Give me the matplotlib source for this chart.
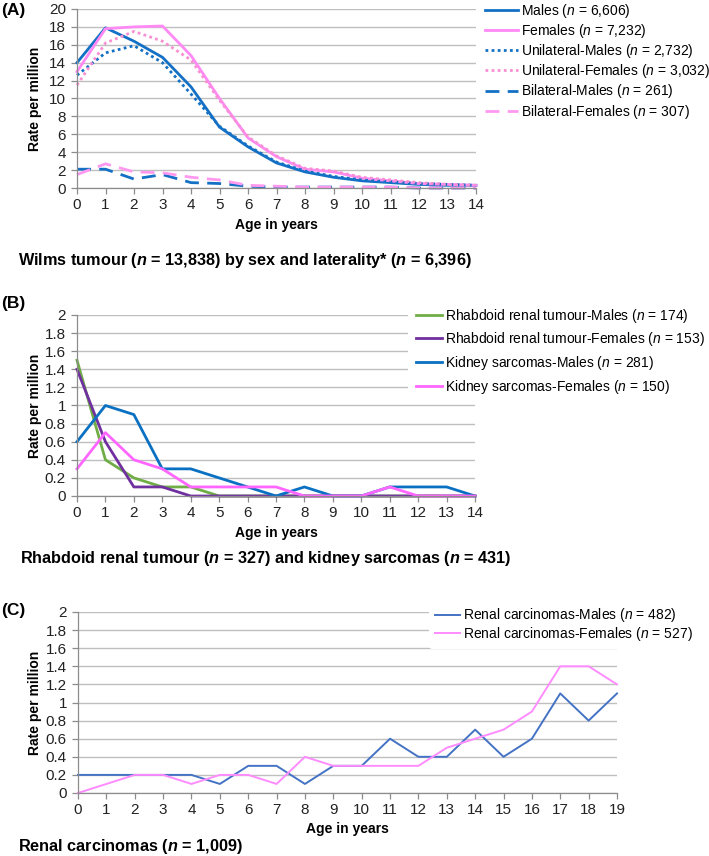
import numpy as np
import matplotlib.pyplot as plt

plt.rcParams['font.family'] = ['Liberation Sans', 'DejaVu Sans']
plt.rcParams['mathtext.fontset'] = 'custom'
plt.rcParams['mathtext.rm'] = 'Liberation Sans'
plt.rcParams['mathtext.it'] = 'Liberation Sans:italic'
plt.rcParams['mathtext.bf'] = 'Liberation Sans:bold'
plt.rcParams['mathtext.bfit'] = 'Liberation Sans:bold:italic'

# panel A: Wilms tumour, ages 0-14
ages_a = list(range(15))
males = [14.0, 17.9, 16.4, 14.6, 11.3, 6.8, 4.6, 2.8, 1.8, 1.2, 0.8, 0.6, 0.4, 0.3, 0.3]
females = [13.0, 17.8, 18.0, 18.1, 14.8, 10.0, 5.6, 3.5, 2.1, 1.8, 1.1, 0.8, 0.5, 0.4, 0.3]
uni_males = [12.6, 15.1, 15.9, 14.0, 10.5, 6.9, 4.7, 2.9, 1.9, 1.3, 0.9, 0.7, 0.5, 0.4, 0.3]
uni_females = [11.5, 16.2, 17.5, 16.4, 14.3, 9.8, 5.7, 3.6, 2.2, 1.9, 1.2, 0.9, 0.6, 0.4, 0.3]
bi_males = [2.1, 2.1, 1.0, 1.5, 0.6, 0.5, 0.2, 0.1, 0.1, 0.1, 0.1, 0.1, 0.0, 0.0, 0.0]
bi_females = [1.5, 2.7, 1.8, 1.7, 1.2, 0.9, 0.3, 0.2, 0.1, 0.1, 0.1, 0.1, 0.0, 0.0, 0.0]

# panel B: rhabdoid renal tumour and kidney sarcomas
ages_b = list(range(15))
rhab_males = [1.5, 0.4, 0.2, 0.1, 0.1, 0.0, 0.0, 0.0, 0.0, 0.0, 0.0, 0.0, 0.0, 0.0, 0.0]
rhab_females = [1.4, 0.6, 0.1, 0.1, 0.0, 0.0, 0.0, 0.0, 0.0, 0.0, 0.0, 0.0, 0.0, 0.0, 0.0]
sarc_males = [0.6, 1.0, 0.9, 0.3, 0.3, 0.2, 0.1, 0.0, 0.1, 0.0, 0.0, 0.1, 0.1, 0.1, 0.0]
sarc_females = [0.3, 0.7, 0.4, 0.3, 0.1, 0.1, 0.1, 0.1, 0.0, 0.0, 0.0, 0.1, 0.0, 0.0, 0.0]

# panel C: renal carcinomas, ages 0-19
ages_c = list(range(20))
carc_males = [0.2, 0.2, 0.2, 0.2, 0.2, 0.1, 0.3, 0.3, 0.1, 0.3, 0.3, 0.6, 0.4, 0.4, 0.7, 0.4, 0.6, 1.1, 0.8, 1.1]
carc_females = [0.0, 0.1, 0.2, 0.2, 0.1, 0.2, 0.2, 0.1, 0.4, 0.3, 0.3, 0.3, 0.3, 0.5, 0.6, 0.7, 0.9, 1.4, 1.4, 1.2]

W, H = 709, 856
GRID = '#BFBFBF'
AXC = '#8C8C8C'
N = r'$\it{n}$'
NB = r'$\mathbfit{n}$'

fig = plt.figure(figsize=(W / 100, H / 100), dpi=100)


def make_axes(left, top, right, bottom):
    return fig.add_axes([left / W, 1 - bottom / H, (right - left) / W, (bottom - top) / H])


def style(ax, xmax, ymax, labels):
    ax.set_xlim(0, xmax)
    ax.set_ylim(0, ymax)
    ax.set_xticks(range(xmax + 1))
    ax.set_yticks(np.linspace(0, ymax, 11))
    ax.set_yticklabels(labels)
    ax.yaxis.grid(True, color=GRID, lw=1.0)
    ax.set_axisbelow(True)
    for s in ['top', 'right']:
        ax.spines[s].set_visible(False)
    for s in ['left', 'bottom']:
        ax.spines[s].set_color(AXC)
        ax.spines[s].set_linewidth(0.9)
    ax.tick_params(axis='both', colors=AXC, length=4, width=0.9, labelsize=11,
                   labelcolor='#222222')
    ax.tick_params(axis='x', pad=3)
    ax.tick_params(axis='y', pad=4)


def ftext(x, y, s, **kw):
    return fig.text(x / W, 1 - y / H, s, **kw)


def legend(ax, x, y, hl, ls, bp=0.0):
    # x, y: pixel position of the first handle's left end / top of first row
    fs = 10
    fpx = fs * 100 / 72
    leg = ax.legend(loc='upper left', fontsize=fs, frameon=True, borderpad=bp,
                    handlelength=hl, handletextpad=0.2, labelspacing=ls,
                    borderaxespad=0,
                    bbox_to_anchor=((x - bp * fpx) / W, 1 - (y - bp * fpx) / H),
                    bbox_transform=fig.transFigure)
    leg.get_frame().set_facecolor('white')
    leg.get_frame().set_edgecolor('none')
    leg.get_frame().set_alpha(1)
    return leg


# ---- A
ax = make_axes(77, 9, 476, 188)
style(ax, 14, 20, [str(v) for v in range(0, 21, 2)])
blue = '#1370C4'
ax.plot(ages_a, males, color=blue, lw=2.0, label='Males (' + N + ' = 6,606)', clip_on=False)
ax.plot(ages_a, females, color='#FF8AF5', lw=2.0, label='Females (' + N + ' = 7,232)', clip_on=False)
ax.plot(ages_a, uni_males, color=blue, lw=2.0, ls=(0, (1, 1.2)),
        label='Unilateral-Males (' + N + ' = 2,732)', clip_on=False)
ax.plot(ages_a, uni_females, color='#F88FD2', lw=2.0, ls=(0, (1, 1.2)),
        label='Unilateral-Females (' + N + ' = 3,032)', clip_on=False)
ax.plot(ages_a, bi_males, color=blue, lw=2.0, ls=(0, (5, 3)),
        label='Bilateral-Males (' + N + ' = 261)', clip_on=False)
ax.plot(ages_a, bi_females, color='#FF99F0', lw=2.0, ls=(0, (5, 3)),
        label='Bilateral-Females (' + N + ' = 307)', clip_on=False)
legend(ax, 485, 1.5, 2.4, 0.16)

ftext(1, 10, '(A)', fontsize=12.5, fontweight='bold', va='center')
ftext(35, 98.5, 'Rate per million', fontsize=10, fontweight='bold', rotation=90,
      ha='center', va='center')
ftext(276.5, 225, 'Age in years', fontsize=10, fontweight='bold', ha='center', va='center')
ftext(18, 260, 'Wilms tumour (' + NB + ' = 13,838) by sex and laterality* (' + NB + ' = 6,396)',
      fontsize=11.7, fontweight='bold', va='center')

# ---- B
ax = make_axes(77, 315, 475, 496)
blabels = ['0', '0.2', '0.4', '0.6', '0.8', '1', '1.2', '1.4', '1.6', '1.8', '2']
style(ax, 14, 2, blabels)
ax.plot(ages_b, rhab_males, color='#70AD47', lw=2.0,
        label='Rhabdoid renal tumour-Males (' + N + ' = 174)', clip_on=False)
ax.plot(ages_b, rhab_females, color='#7030A0', lw=2.0,
        label='Rhabdoid renal tumour-Females (' + N + ' = 153)', clip_on=False)
ax.plot(ages_b, sarc_males, color='#0A70C2', lw=2.0,
        label='Kidney sarcomas-Males (' + N + ' = 281)', clip_on=False)
ax.plot(ages_b, sarc_females, color='#FF66FF', lw=2.0,
        label='Kidney sarcomas-Females (' + N + ' = 150)', clip_on=False)
legend(ax, 416, 306.5, 1.9, 0.41, bp=0.6)

ftext(1, 303, '(B)', fontsize=12.5, fontweight='bold', va='center')
ftext(35, 405.5, 'Rate per million', fontsize=10, fontweight='bold', rotation=90,
      ha='center', va='center')
ftext(276, 533, 'Age in years', fontsize=10, fontweight='bold', ha='center', va='center')
ftext(20, 558, 'Rhabdoid renal tumour (' + NB + ' = 327) and kidney sarcomas (' + NB + ' = 431)',
      fontsize=11.7, fontweight='bold', va='center')

# ---- C
ax = make_axes(78, 612, 617, 793)
style(ax, 19, 2, blabels)
ax.plot(ages_c, carc_males, color='#4472C4', lw=1.4,
        label='Renal carcinomas-Males (' + N + ' = 482)', clip_on=False)
ax.plot(ages_c, carc_females, color='#FF8CFF', lw=1.4,
        label='Renal carcinomas-Females (' + N + ' = 527)', clip_on=False)
legend(ax, 435, 606.5, 1.8, 0.05, bp=0.4)

ftext(1, 611, '(C)', fontsize=12.5, fontweight='bold', va='center')
ftext(35, 702.5, 'Rate per million', fontsize=10, fontweight='bold', rotation=90,
      ha='center', va='center')
ftext(347.5, 829, 'Age in years', fontsize=10, fontweight='bold', ha='center', va='center')
ftext(18, 847, 'Renal carcinomas (' + NB + ' = 1,009)', fontsize=11.7, fontweight='bold',
      va='center')

fig.savefig('out.png', dpi=100)
